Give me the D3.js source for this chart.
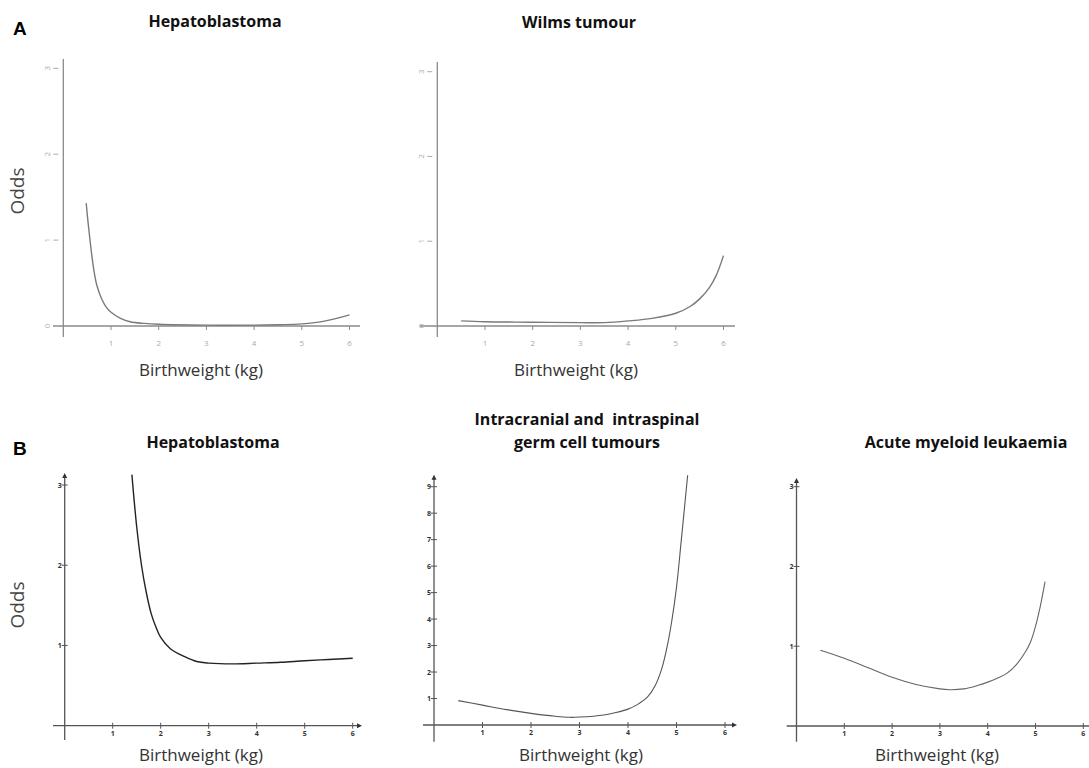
<!DOCTYPE html>
<html>
<head>
<meta charset="utf-8">
<script src="https://cdn.jsdelivr.net/npm/d3@7"></script>
<style>
  body { margin: 0; background: #fff; }
  text { font-family: "Open Sans", "Liberation Sans", sans-serif; }
</style>
</head>
<body>
<div id="chart"></div>
<script>
// valores (peso al nacer en kg, odds)
const xTicks = [1, 2, 3, 4, 5, 6];
const yTicks3 = [0, 1, 2, 3];
const yTicks9 = [1, 2, 3, 4, 5, 6, 7, 8, 9];

const hepaA_x = [0.48, 0.52, 0.57, 0.63, 0.7, 0.8, 0.9, 1.0, 1.2, 1.4, 1.7, 2, 3, 4, 4.5, 5, 5.5, 6];
const hepaA_y = [1.43, 1.2, 0.95, 0.69, 0.48, 0.32, 0.22, 0.16, 0.09, 0.05, 0.03, 0.02, 0.01, 0.01, 0.015, 0.025, 0.06, 0.13];

const wilms_x = [0.5, 1, 2, 3, 3.5, 4, 4.5, 5, 5.3, 5.5, 5.7, 5.85, 6];
const wilms_y = [0.06, 0.05, 0.045, 0.04, 0.04, 0.06, 0.09, 0.15, 0.23, 0.32, 0.45, 0.6, 0.83];

const hepaB_x = [1.4, 1.5, 1.6, 1.7, 1.8, 1.9, 2.0, 2.2, 2.5, 2.75, 3, 3.5, 4, 4.5, 5, 5.5, 6];
const hepaB_y = [3.13, 2.48, 2.0, 1.66, 1.40, 1.23, 1.10, 0.96, 0.86, 0.80, 0.78, 0.77, 0.78, 0.79, 0.81, 0.825, 0.84];

const germ_x = [0.5, 1, 1.5, 2, 2.5, 2.8, 3, 3.5, 3.75, 4.0, 4.2, 4.4, 4.55, 4.7, 4.8, 4.9, 5.0, 5.1, 5.23];
const germ_y = [0.92, 0.75, 0.58, 0.44, 0.33, 0.29, 0.3, 0.38, 0.47, 0.6, 0.78, 1.05, 1.45, 2.15, 2.9, 3.9, 5.2, 7.0, 9.43];

const aml_x = [0.5, 1, 1.5, 2, 2.5, 3, 3.2, 3.5, 3.8, 4.0, 4.2, 4.4, 4.6, 4.8, 4.9, 5.0, 5.1, 5.2];
const aml_y = [0.95, 0.85, 0.73, 0.61, 0.52, 0.465, 0.455, 0.465, 0.51, 0.55, 0.6, 0.66, 0.77, 0.94, 1.06, 1.25, 1.5, 1.81];

const W = 1089, H = 768;

const svg = d3.select("#chart")
  .append("svg")
  .attr("width", W)
  .attr("height", H);

svg.append("rect").attr("width", W).attr("height", H).attr("fill", "#fff");

// paneles: estilo "A" (gris, tipo R) y estilo "B" (oscuro, con flechas)
const panels = [
  { style: "A", title: ["Hepatoblastoma"], tx: 215, ty: [27],
    xr: [63.3, 349.5], yr: [326, 68.3], ymax: 3, yTicks: yTicks3,
    yLine: [59, 337], xLine: [53, 360], lab: 201, odds: true,
    xs: hepaA_x, ys: hepaA_y, stroke: "#7a7a7a", sw: 1.4 },
  { style: "A", title: ["Wilms tumour"], tx: 579, ty: [28],
    xr: [437.3, 723.5], yr: [326, 71.7], ymax: 3, yTicks: yTicks3,
    yLine: [62, 337], xLine: [420, 735], lab: 576, odds: false,
    xs: wilms_x, ys: wilms_y, stroke: "#7a7a7a", sw: 1.4 },
  { style: "B", title: ["Hepatoblastoma"], tx: 213, ty: [448],
    xr: [64.7, 352.7], yr: [725.7, 485], ymax: 3, yTicks: yTicks3.slice(1),
    yLine: [475, 740], xLine: [53, 360], lab: 201, odds: true,
    xs: hepaB_x, ys: hepaB_y, stroke: "#222", sw: 1.4 },
  { style: "B", title: ["Intracranial and  intraspinal", "germ cell tumours"], tx: 587, ty: [425, 448],
    xr: [434, 725], yr: [725, 486.7], ymax: 9, yTicks: yTicks9,
    yLine: [476.7, 741.7], xLine: [423, 735], lab: 581, odds: false,
    xs: germ_x, ys: germ_y, stroke: "#555", sw: 1.1 },
  { style: "B", title: ["Acute myeloid leukaemia"], tx: 966, ty: [448],
    xr: [796.5, 1083.3], yr: [726, 486.7], ymax: 3, yTicks: yTicks3.slice(1),
    yLine: [480, 741.7], xLine: [786.7, 1089], lab: 937, odds: false,
    xs: aml_x, ys: aml_y, stroke: "#666", sw: 1.1 }
];

panels.forEach(p => {
  const x = d3.scaleLinear().domain([0, 6]).range(p.xr);
  const y = d3.scaleLinear().domain([0, p.ymax]).range(p.yr);
  const g = svg.append("g");
  const axisCol = p.style === "A" ? "#8a8a8a" : "#555";
  const x0 = x(0), y0 = y(0);

  // lineas de los ejes
  g.append("line").attr("x1", x0).attr("x2", x0)
    .attr("y1", p.yLine[0]).attr("y2", p.yLine[1])
    .attr("stroke", axisCol).attr("stroke-width", 1.3);
  g.append("line").attr("x1", p.xLine[0]).attr("x2", p.xLine[1])
    .attr("y1", y0).attr("y2", y0)
    .attr("stroke", axisCol).attr("stroke-width", 1.3);

  if (p.style === "A") {
    // ticks hacia afuera, etiquetas grises pequeñas
    xTicks.forEach(t => {
      g.append("line").attr("x1", x(t)).attr("x2", x(t))
        .attr("y1", y0).attr("y2", y0 + 4)
        .attr("stroke", axisCol).attr("stroke-width", 1);
      g.append("text").attr("x", x(t)).attr("y", y0 + 20)
        .attr("text-anchor", "middle").attr("font-size", 8).attr("fill", "#aaa")
        .text(t);
    });
    p.yTicks.forEach(t => {
      g.append("line").attr("x1", x0 - 10).attr("x2", x0 - 5)
        .attr("y1", y(t)).attr("y2", y(t))
        .attr("stroke", "#aaa").attr("stroke-width", 1);
      g.append("text")
        .attr("transform", `translate(${x0 - 13},${y(t)}) rotate(-90)`)
        .attr("text-anchor", "middle").attr("font-size", 8).attr("fill", "#aaa")
        .text(t);
    });
  } else {
    // ticks que cruzan el eje, etiquetas pequeñas en negrita
    xTicks.forEach(t => {
      g.append("line").attr("x1", x(t)).attr("x2", x(t))
        .attr("y1", y0 - 3).attr("y2", y0 + 3)
        .attr("stroke", axisCol).attr("stroke-width", 1);
      g.append("text").attr("x", x(t)).attr("y", y0 + 10)
        .attr("text-anchor", "middle").attr("font-size", 7)
        .attr("font-weight", "bold").attr("fill", "#333")
        .text(t);
    });
    p.yTicks.forEach(t => {
      g.append("line").attr("x1", x0 - 3).attr("x2", x0 + 3)
        .attr("y1", y(t)).attr("y2", y(t))
        .attr("stroke", axisCol).attr("stroke-width", 1);
      g.append("text").attr("x", x0 - 3).attr("y", y(t) + 2.5)
        .attr("text-anchor", "end").attr("font-size", 7)
        .attr("font-weight", "bold").attr("fill", "#333")
        .text(t);
    });
    // flechas
    const top = p.yLine[0];
    g.append("path")
      .attr("d", `M${x0},${top - 2} L${x0 - 2.5},${top + 3} L${x0 + 2.5},${top + 3} Z`)
      .attr("fill", "#333");
    if (p.xLine[1] < W) {
      const r = p.xLine[1];
      g.append("path")
        .attr("d", `M${r + 2},${y0} L${r - 3},${y0 - 2.5} L${r - 3},${y0 + 2.5} Z`)
        .attr("fill", "#333");
    }
  }

  // curva
  const pts = p.xs.map((v, i) => [v, p.ys[i]]);
  const line = d3.line()
    .x(d => x(d[0]))
    .y(d => y(d[1]))
    .curve(d3.curveCatmullRom.alpha(0.5));
  g.append("path").datum(pts)
    .attr("d", line)
    .attr("fill", "none")
    .attr("stroke", p.stroke)
    .attr("stroke-width", p.sw);

  // titulos
  p.title.forEach((t, i) => {
    g.append("text").attr("x", p.tx).attr("y", p.ty[i])
      .attr("text-anchor", "middle").attr("font-size", 16)
      .attr("font-weight", "bold").attr("fill", "#111")
      .attr("xml:space", "preserve")
      .text(t);
  });

  // etiqueta eje x
  g.append("text").attr("x", p.lab).attr("y", p.style === "A" ? 376 : 761)
    .attr("text-anchor", "middle").attr("font-size", 17).attr("fill", "#333")
    .text("Birthweight (kg)");

  if (p.odds) {
    const cy = p.style === "A" ? 191 : 605;
    g.append("text")
      .attr("transform", `translate(24,${cy}) rotate(-90)`)
      .attr("text-anchor", "middle").attr("font-size", 19).attr("fill", "#444")
      .text("Odds");
  }
});

// letras de panel
svg.append("text").attr("x", 13).attr("y", 35)
  .attr("font-size", 19).attr("font-weight", "bold").attr("fill", "#000")
  .style("font-family", "Liberation Sans, Arial, sans-serif")
  .text("A");
svg.append("text").attr("x", 13).attr("y", 455)
  .attr("font-size", 19).attr("font-weight", "bold").attr("fill", "#000")
  .style("font-family", "Liberation Sans, Arial, sans-serif")
  .text("B");
</script>
</body>
</html>
